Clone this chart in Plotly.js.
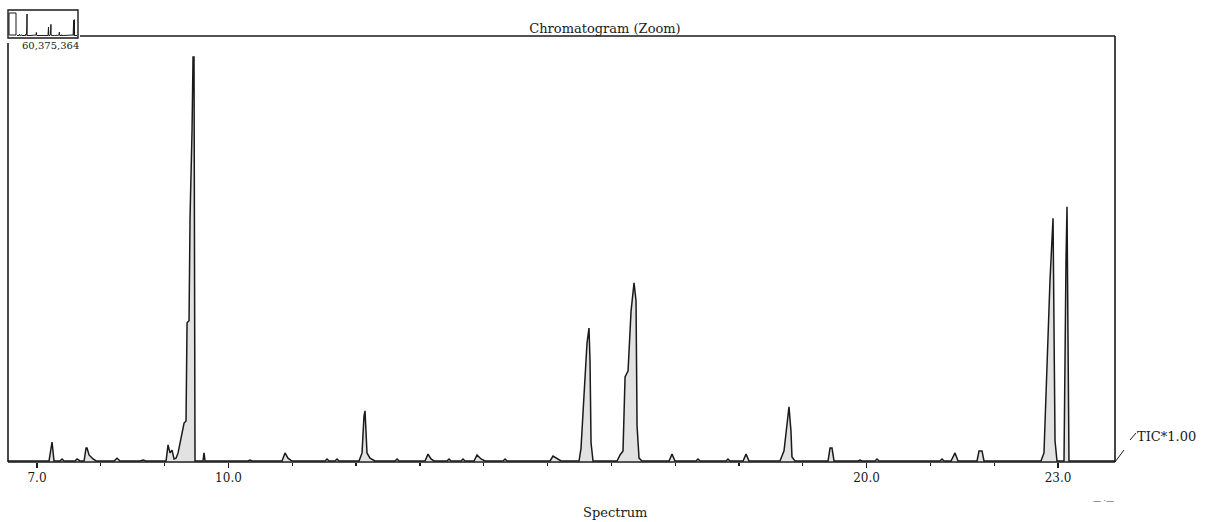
<!DOCTYPE html>
<html>
<head>
<meta charset="utf-8">
<script src="https://cdn.plot.ly/plotly-3.0.1.min.js"></script>
<style>html,body{margin:0;padding:0;background:#fff;}#chart{width:1214px;height:522px;}</style>
</head>
<body>
<div id="chart"></div>
<script>
// Retention time (min)
const retentionTime = [
  6.545, 7.188, 7.235, 7.266, 7.360, 7.392, 7.423, 7.596, 7.627, 7.674,
  7.737, 7.768, 7.784, 7.815, 7.878, 7.925, 8.207, 8.254, 8.301, 8.614,
  8.661, 8.708, 9.022, 9.053, 9.084, 9.116, 9.147, 9.178, 9.210, 9.257,
  9.304, 9.335, 9.351, 9.382, 9.398, 9.429, 9.445, 9.460, 9.476, 9.601,
  9.617, 9.633, 10.307, 10.338, 10.369, 10.839, 10.886, 10.933, 10.996, 11.513,
  11.545, 11.576, 11.670, 11.701, 11.733, 12.046, 12.093, 12.124, 12.140, 12.171,
  12.218, 12.297, 12.610, 12.642, 12.673, 13.080, 13.127, 13.174, 13.221, 13.425,
  13.456, 13.488, 13.644, 13.676, 13.707, 13.848, 13.895, 13.958, 14.021, 14.303,
  14.334, 14.366, 15.039, 15.086, 15.149, 15.212, 15.494, 15.525, 15.556, 15.588,
  15.619, 15.650, 15.666, 15.682, 15.713, 16.089, 16.136, 16.183, 16.215, 16.262,
  16.309, 16.356, 16.387, 16.403, 16.434, 16.481, 16.904, 16.951, 16.998, 17.327,
  17.358, 17.390, 17.797, 17.828, 17.860, 18.064, 18.111, 18.158, 18.643, 18.706,
  18.753, 18.784, 18.815, 18.831, 18.878, 19.396, 19.427, 19.458, 19.490, 19.866,
  19.897, 19.928, 20.132, 20.163, 20.195, 21.151, 21.182, 21.213, 21.323, 21.386,
  21.433, 21.731, 21.762, 21.809, 21.840, 22.733, 22.780, 22.796, 22.827, 22.874,
  22.922, 22.937, 22.953, 22.984, 23.094, 23.125, 23.141, 23.157, 23.172, 23.893
];
// Relative intensity (%)
const intensity = [
  0, 0, 4.7, 0, 0, 0.5, 0, 0, 0.5, 0,
  0, 3.2, 3.2, 1.5, 0.5, 0, 0, 0.7, 0, 0,
  0.25, 0, 0, 4.0, 2.0, 2.7, 0.5, 0.7, 2.0, 5.7,
  9.4, 9.9, 34.2, 34.7, 60.4, 81.7, 100, 100, 0, 0,
  2.0, 0, 0, 0.25, 0, 0, 2.0, 0.7, 0, 0,
  0.5, 0, 0, 0.5, 0, 0, 2.0, 11.1, 12.4, 2.0,
  0.7, 0, 0, 0.5, 0, 0, 1.7, 0.5, 0, 0,
  0.5, 0, 0, 0.5, 0, 0, 1.5, 0.5, 0, 0,
  0.5, 0, 0, 1.2, 0.5, 0, 0, 3.2, 11.9, 20.8,
  29.2, 32.9, 24.8, 4.5, 0, 0, 1.5, 2.5, 20.8, 22.3,
  37.1, 44.1, 39.6, 8.7, 0.7, 0, 0, 1.7, 0, 0,
  0.5, 0, 0, 0.5, 0, 0, 1.7, 0, 0, 2.5,
  9.9, 13.4, 7.4, 1.0, 0, 0, 3.2, 3.2, 0, 0,
  0.25, 0, 0, 0.5, 0, 0, 0.5, 0, 0, 2.0,
  0, 0, 2.5, 2.5, 0, 0, 2.0, 9.4, 28.0, 44.6,
  60.1, 32.2, 5.0, 0, 0, 49.5, 62.9, 29.7, 0, 0
];
const tickValues = [7, 10, 20, 23];
const tickLabels = ["7.0", "10.0", "20.0", "23.0"];
const chartTitle = "Chromatogram (Zoom)";
const xLabel = "Spectrum";
const traceLabel = "TIC*1.00";
const insetLabel = "60,375,364";

// pixel -> paper helpers (plot area: x 8..1115, paper y 8..462)
const PX = p => (p - 8) / 1107;
const PY = p => (462 - p) / 454;

const ink = '#1a1a1a';
const fontFam = 'DejaVu Serif, Liberation Serif, serif';

const traces = [
  {
    x: retentionTime, y: intensity, type: 'scatter', mode: 'lines',
    line: {color: ink, width: 1.5, shape: 'linear'},
    fill: 'tozeroy', fillcolor: 'rgba(150,150,150,0.28)',
    xaxis: 'x', yaxis: 'y', hoverinfo: 'x+y', showlegend: false
  },
  {
    x: retentionTime, y: intensity, type: 'scatter', mode: 'lines',
    line: {color: ink, width: 1},
    xaxis: 'x2', yaxis: 'y2', hoverinfo: 'skip', showlegend: false
  }
];

const lineStyle = {color: ink, width: 1.6};
const layout = {
  width: 1214, height: 522,
  margin: {l: 8, r: 99, t: 8, b: 60},
  paper_bgcolor: '#fff', plot_bgcolor: '#fff',
  showlegend: false,
  title: {
    text: chartTitle, x: 605 / 1214, xanchor: 'center',
    y: 1 - 28 / 522, yanchor: 'middle',
    font: {family: fontFam, size: 13, color: ink}
  },
  xaxis: {
    domain: [0, 1], anchor: 'y',
    range: [6.545, 23.893],
    showline: false, showgrid: false, zeroline: false,
    tickmode: 'array', tickvals: tickValues, ticktext: tickLabels,
    ticks: 'outside', ticklen: 5, tickwidth: 1.4, tickcolor: ink,
    tickfont: {family: fontFam, size: 12, color: ink},
    minor: {tickmode: 'linear', tick0: 7, dtick: 1, ticks: 'outside', ticklen: 3, tickwidth: 1.2, tickcolor: ink, showgrid: false}
  },
  yaxis: {
    domain: [0, 426 / 454], anchor: 'x',
    range: [-0.25, 105.2],
    showline: false, showgrid: false, zeroline: false,
    showticklabels: false, ticks: ''
  },
  xaxis2: {
    domain: [PX(17), PX(77)], anchor: 'y2',
    range: [6.545, 23.893], visible: false
  },
  yaxis2: {
    domain: [PY(36), PY(14)], anchor: 'x2',
    range: [-2, 85], visible: false
  },
  shapes: [
    {type: 'line', xref: 'paper', yref: 'paper', x0: 0, x1: 0, y0: 0, y1: PY(43), line: lineStyle},
    {type: 'line', xref: 'paper', yref: 'paper', x0: PX(80), x1: 1, y0: PY(36), y1: PY(36), line: lineStyle},
    {type: 'line', xref: 'paper', yref: 'paper', x0: 1, x1: 1, y0: 0, y1: PY(36), line: lineStyle},
    {type: 'line', xref: 'paper', yref: 'paper', x0: 0, x1: 1, y0: 0, y1: 0, line: lineStyle},
    {type: 'rect', xref: 'paper', yref: 'paper', x0: PX(8), x1: PX(78), y0: PY(38), y1: PY(10), line: {color: ink, width: 1.4}},
    {type: 'rect', xref: 'paper', yref: 'paper', x0: PX(9), x1: PX(16), y0: PY(35), y1: PY(13), line: {color: ink, width: 1}},
    {type: 'line', xref: 'paper', yref: 'paper', x0: 1, x1: PX(1124), y0: 0, y1: PY(450), line: {color: ink, width: 1}},
    {type: 'line', xref: 'paper', yref: 'paper', x0: PX(1130), x1: PX(1136), y0: PY(440), y1: PY(433), line: {color: ink, width: 1}}
  ],
  annotations: [
    {text: insetLabel, xref: 'paper', yref: 'paper', x: PX(50), y: PY(46), xanchor: 'center', yanchor: 'middle', showarrow: false, font: {family: fontFam, size: 10, color: ink}},
    {text: traceLabel, xref: 'paper', yref: 'paper', x: PX(1135), y: PY(436), xanchor: 'left', yanchor: 'middle', showarrow: false, font: {family: fontFam, size: 13, color: ink}},
    {text: xLabel, xref: 'paper', yref: 'paper', x: PX(615), y: PY(512), xanchor: 'center', yanchor: 'middle', showarrow: false, font: {family: fontFam, size: 13, color: ink}},
    {text: '— ·—', xref: 'paper', yref: 'paper', x: PX(1103), y: PY(500), xanchor: 'center', yanchor: 'middle', showarrow: false, font: {family: fontFam, size: 8, color: ink}}
  ]
};

Plotly.newPlot('chart', traces, layout, {displayModeBar: false, staticPlot: true});
</script>
</body>
</html>
